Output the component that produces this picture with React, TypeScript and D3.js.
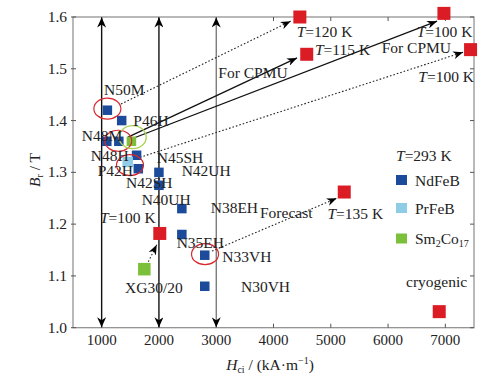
import React from "react";
import * as d3 from "d3";

const xTicks = [1000, 2000, 3000, 4000, 5000, 6000, 7000];
const yTicks = [1.0, 1.1, 1.2, 1.3, 1.4, 1.5, 1.6];

// [Hci, Br]
const ndfeb: [number, number][] = [
  [1100, 1.42], [1350, 1.40], [1090, 1.36], [1300, 1.36], [1610, 1.333],
  [1640, 1.307], [2000, 1.30], [2000, 1.275], [2400, 1.23], [2400, 1.18],
  [2800, 1.14], [2800, 1.08],
];
const prfeb: [number, number][] = [[1455, 1.32]];
const smco: [number, number][] = [[1520, 1.36], [1745, 1.113]];
const cryo: [number, number][] = [
  [2015, 1.182], [4460, 1.60], [4580, 1.528], [6975, 1.607], [7440, 1.537],
  [5235, 1.262], [6893, 1.031],
];

const verticalArrows = [1000, 2000, 3000];

const solidArrows: [number, number, number, number][] = [
  [1460, 1.368, 4411, 1.521],
  [1460, 1.362, 6855, 1.592],
];
const dottedArrows: [number, number, number, number][] = [
  [1338, 1.432, 4300, 1.592],
  [1670, 1.329, 7310, 1.532],
  [2927, 1.148, 5104, 1.250],
  [1787, 1.121, 1962, 1.160],
];

const redCircles: [number, number][] = [
  [1100, 1.423], [1290, 1.361], [1495, 1.314], [2805, 1.142],
];
const greenCircles: [number, number][] = [[1542, 1.368]];

// [text, x, y, hasItalicT]
const labels: [string, number, number][] = [
  ["N50M", 1041, 1.4493],
  ["P46H", 1553, 1.3895],
  ["N48M", 652, 1.3606],
  ["N48H", 809, 1.3219],
  ["P42H", 931, 1.293],
  ["N45SH", 1961, 1.3181],
  ["N42UH", 2397, 1.293],
  ["N42SH", 1425, 1.2698],
  ["N40UH", 1699, 1.237],
  ["N38EH", 2904, 1.2215],
  ["Forecast", 3764, 1.2119],
  ["N35EH", 2310, 1.1533],
  ["N33VH", 3106, 1.1275],
  ["N30VH", 3432, 1.0695],
  ["XG30/20", 1408, 1.0664],
  ["cryogenic", 6313, 1.0792],
  ["For CPMU", 3036, 1.4817],
  ["For CPMU", 5889, 1.5311],
];
const tempLabels: [string, number, number][] = [
  ["=100 K", 971, 1.2028],
  ["=135 K", 4941, 1.2099],
  ["=120 K", 4405, 1.562],
  ["=115 K", 4724, 1.5267],
  ["=100 K", 6500, 1.562],
  ["=100 K", 6528, 1.4751],
];

const legendItems = ["NdFeB", "PrFeB", "Sm2Co17"];

const COLORS = {
  nd: "#1d4b9b",
  pr: "#8fcde6",
  sm: "#7cbf3a",
  cryo: "#dc1c24",
};

export default function App() {
  const x = d3.scaleLinear().domain([500, 7500]).range([73, 474]);
  const y = d3.scaleLinear().domain([1.0, 1.6]).range([327.7, 17]);
  const font = "'Liberation Serif', 'Times New Roman', serif";
  const [x0, x1] = x.range();
  const [y0, y1] = y.range();

  const sq = (pts: [number, number][], s: number, fill: string, key: string) =>
    pts.map((p, i) => (
      <rect key={key + i} x={x(p[0]) - s / 2} y={y(p[1]) - s / 2} width={s} height={s} fill={fill} />
    ));

  const legendColors = [COLORS.nd, COLORS.pr, COLORS.sm];
  const legendY = [180, 208, 238.5];

  return (
    <svg width={499} height={380} style={{ position: "absolute", left: 0, top: 0, background: "#fff" }}
      fontFamily={font}>
      <defs>
        <marker id="bigArrow" markerUnits="userSpaceOnUse" markerWidth={10} markerHeight={9}
          refX={10} refY={4.5} orient="auto-start-reverse" viewBox="0 0 10 9">
          <path d="M0,0 L10,4.5 L0,9 L3,4.5 Z" fill="#000" />
        </marker>
        <marker id="smallArrow" markerUnits="userSpaceOnUse" markerWidth={10} markerHeight={8}
          refX={10} refY={4} orient="auto" viewBox="0 0 10 8">
          <path d="M0,0 L10,4 L0,8 L3,4 Z" fill="#000" />
        </marker>
      </defs>

      {/* frame */}
      <rect x={x0} y={y1} width={x1 - x0} height={y0 - y1} fill="none" stroke="#8a8a8a" strokeWidth={1.2} />
      {xTicks.map((t) => (
        <g key={"xt" + t}>
          <line x1={x(t)} x2={x(t)} y1={y0} y2={y0 - 4} stroke="#555" />
          <line x1={x(t)} x2={x(t)} y1={y1} y2={y1 + 4} stroke="#555" />
          <text x={x(t)} y={345} textAnchor="middle" fontSize={15} fill="#222">{t}</text>
        </g>
      ))}
      {yTicks.map((t) => (
        <g key={"yt" + t}>
          <line x1={x0 - 2} x2={x0 + 3} y1={y(t)} y2={y(t)} stroke="#555" />
          <line x1={x1} x2={x1 - 4} y1={y(t)} y2={y(t)} stroke="#555" />
          <text x={67} y={y(t) + 5} textAnchor="end" fontSize={15.5} fill="#222">{t.toFixed(1)}</text>
        </g>
      ))}

      {/* vertical arrows */}
      {verticalArrows.map((v, i) => (
        <line key={"va" + v} x1={x(v)} x2={x(v)} y1={y0 - 0.5} y2={y1 + 0.5}
          stroke={i < 2 ? "#111" : "#333"} strokeWidth={i < 2 ? 1.4 : 0.9}
          markerStart="url(#bigArrow)" markerEnd="url(#bigArrow)" />
      ))}

      {/* dotted & solid arrows */}
      {dottedArrows.map((a, i) => (
        <line key={"da" + i} x1={x(a[0])} y1={y(a[1])} x2={x(a[2])} y2={y(a[3])}
          stroke="#222" strokeWidth={1.1} strokeDasharray="1.6,2" markerEnd="url(#smallArrow)" />
      ))}
      {solidArrows.map((a, i) => (
        <line key={"sa" + i} x1={x(a[0])} y1={y(a[1])} x2={x(a[2])} y2={y(a[3])}
          stroke="#111" strokeWidth={1.3} markerEnd="url(#smallArrow)" />
      ))}

      {/* points */}
      {sq(ndfeb, 9.5, COLORS.nd, "nd")}
      {sq(prfeb, 10.5, COLORS.pr, "pr")}
      {sq(smco.slice(0, 1), 9.5, COLORS.sm, "sm0")}
      {sq(smco.slice(1), 12.5, COLORS.sm, "sm1")}
      {sq(cryo, 13, COLORS.cryo, "cr")}

      {/* circles */}
      {redCircles.map((c, i) => (
        <ellipse key={"rc" + i} cx={x(c[0])} cy={y(c[1])} rx={13.5} ry={10.5} fill="none" stroke="#d8262e" strokeWidth={1.2} />
      ))}
      {greenCircles.map((c, i) => (
        <ellipse key={"gc" + i} cx={x(c[0])} cy={y(c[1])} rx={13.5} ry={11.5} fill="none" stroke="#a8d050" strokeWidth={1.3} />
      ))}

      {/* labels */}
      {labels.map((l, i) => (
        <text key={"lb" + i} x={x(l[1])} y={y(l[2])} fontSize={15.5} fill="#222">{l[0]}</text>
      ))}
      {tempLabels.map((l, i) => (
        <text key={"tl" + i} x={x(l[1])} y={y(l[2])} fontSize={15.5} fill="#222">
          <tspan fontStyle="italic">T</tspan>{l[0]}
        </text>
      ))}

      {/* legend */}
      <text x={396} y={160.7} fontSize={15.5} fill="#222"><tspan fontStyle="italic">T</tspan>=293 K</text>
      {legendItems.map((name, i) => (
        <g key={"lg" + name}>
          <rect x={396} y={legendY[i] - 5} width={11} height={10} fill={legendColors[i]} />
          <text x={415} y={legendY[i] + 5.5} fontSize={15.5} fill="#222">
            {name === "Sm2Co17" ? (
              <>Sm<tspan fontSize={10} dy={3}>2</tspan><tspan dy={-3}>Co</tspan><tspan fontSize={10} dy={3}>17</tspan></>
            ) : name}
          </text>
        </g>
      ))}

      {/* axis titles */}
      <text x={270} y={370} textAnchor="middle" fontSize={15.5} fill="#222">
        <tspan fontStyle="italic">H</tspan><tspan fontSize={10} dy={3}>ci</tspan>
        <tspan dy={-3}> / (kA·m</tspan><tspan fontSize={10} dy={-6}>−1</tspan><tspan dy={6}>)</tspan>
      </text>
      <text transform="translate(40,170) rotate(-90)" textAnchor="middle" fontSize={15.5} fill="#222">
        <tspan fontStyle="italic">B</tspan><tspan fontSize={10} dy={3}>r</tspan><tspan dy={-3}> / T</tspan>
      </text>
    </svg>
  );
}
